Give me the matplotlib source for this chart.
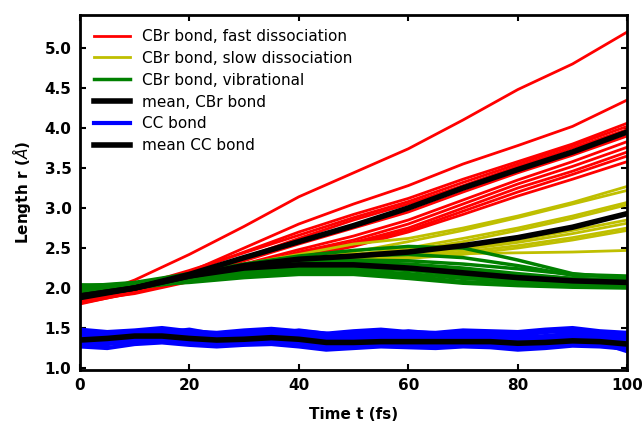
import numpy as np
import matplotlib.pyplot as plt

# Время (fs), точки через 10 fs для связей CBr
t10 = [0, 10, 20, 30, 40, 50, 60, 70, 80, 90, 100]
# через 5 fs для связи CC
t5 = [0, 5, 10, 15, 20, 25, 30, 35, 40, 45, 50, 55, 60, 65, 70, 75, 80, 85, 90, 95, 100]

# CBr, быстрая диссоциация
fast = [
    [1.85, 2.10, 2.42, 2.77, 3.14, 3.44, 3.74, 4.10, 4.48, 4.80, 5.20],
    [1.85, 2.00, 2.20, 2.50, 2.80, 3.05, 3.28, 3.55, 3.78, 4.02, 4.35],
    [1.82, 1.98, 2.20, 2.45, 2.70, 2.92, 3.12, 3.36, 3.58, 3.80, 4.06],
    [1.88, 2.02, 2.22, 2.44, 2.66, 2.88, 3.08, 3.32, 3.55, 3.78, 4.02],
    [1.80, 1.95, 2.15, 2.38, 2.62, 2.85, 3.05, 3.28, 3.52, 3.75, 3.98],
    [1.81, 1.94, 2.13, 2.34, 2.55, 2.75, 2.95, 3.20, 3.44, 3.66, 3.90],
    [1.86, 1.97, 2.12, 2.30, 2.48, 2.65, 2.85, 3.10, 3.35, 3.58, 3.83],
    [1.83, 1.95, 2.10, 2.27, 2.45, 2.60, 2.80, 3.05, 3.30, 3.52, 3.76],
    [1.90, 1.98, 2.12, 2.28, 2.43, 2.57, 2.75, 3.00, 3.25, 3.46, 3.70],
    [1.84, 1.93, 2.08, 2.24, 2.40, 2.55, 2.72, 2.96, 3.20, 3.42, 3.65],
    [1.87, 1.96, 2.10, 2.25, 2.38, 2.52, 2.70, 2.92, 3.15, 3.36, 3.58],
]
fast_mean = [1.88, 2.00, 2.17, 2.38, 2.58, 2.78, 3.00, 3.25, 3.48, 3.70, 3.95]

# CBr, медленная диссоциация
slow = [
    [1.95, 2.03, 2.17, 2.30, 2.42, 2.55, 2.62, 2.75, 2.90, 3.07, 3.27],
    [1.97, 2.04, 2.16, 2.28, 2.37, 2.45, 2.58, 2.72, 2.88, 3.05, 3.22],
    [1.93, 2.00, 2.13, 2.27, 2.36, 2.42, 2.50, 2.62, 2.75, 2.90, 3.07],
    [1.96, 2.02, 2.14, 2.26, 2.35, 2.40, 2.47, 2.58, 2.72, 2.87, 3.04],
    [1.94, 2.01, 2.13, 2.25, 2.33, 2.38, 2.43, 2.50, 2.60, 2.72, 2.85],
    [1.98, 2.03, 2.14, 2.25, 2.32, 2.36, 2.41, 2.48, 2.57, 2.68, 2.81],
    [1.95, 2.00, 2.12, 2.24, 2.31, 2.35, 2.39, 2.45, 2.53, 2.63, 2.75],
    [1.96, 2.02, 2.13, 2.24, 2.30, 2.34, 2.37, 2.42, 2.50, 2.60, 2.72],
    [1.97, 2.03, 2.14, 2.26, 2.34, 2.38, 2.41, 2.43, 2.44, 2.45, 2.47],
]
slow_mean = [1.90, 2.00, 2.15, 2.28, 2.36, 2.40, 2.45, 2.53, 2.63, 2.76, 2.93]

# CBr, колебания
vib = [
    [2.02, 2.07, 2.18, 2.30, 2.40, 2.47, 2.52, 2.50, 2.35, 2.18, 2.12],
    [1.98, 2.05, 2.16, 2.28, 2.36, 2.40, 2.42, 2.38, 2.28, 2.16, 2.14],
    [2.00, 2.04, 2.14, 2.25, 2.32, 2.35, 2.34, 2.30, 2.24, 2.17, 2.15],
    [1.96, 2.03, 2.13, 2.22, 2.27, 2.28, 2.26, 2.22, 2.16, 2.12, 2.10],
    [2.03, 2.05, 2.12, 2.20, 2.25, 2.26, 2.23, 2.18, 2.12, 2.09, 2.08],
    [1.99, 2.02, 2.10, 2.18, 2.22, 2.22, 2.18, 2.12, 2.08, 2.06, 2.05],
    [1.95, 2.00, 2.08, 2.15, 2.20, 2.20, 2.15, 2.08, 2.05, 2.03, 2.02],
    [2.04, 2.03, 2.07, 2.13, 2.17, 2.17, 2.12, 2.06, 2.03, 2.01, 2.00],
    [1.97, 2.01, 2.09, 2.17, 2.23, 2.25, 2.22, 2.15, 2.10, 2.05, 2.03],
    [2.01, 2.06, 2.15, 2.24, 2.30, 2.32, 2.30, 2.25, 2.18, 2.12, 2.08],
]
vib_mean = [1.90, 2.00, 2.15, 2.25, 2.29, 2.29, 2.25, 2.19, 2.13, 2.09, 2.07]

# CC
cc = [
    [1.48, 1.45, 1.47, 1.50, 1.46, 1.44, 1.47, 1.49, 1.46, 1.43, 1.46, 1.48, 1.45, 1.44, 1.47, 1.46, 1.45, 1.48, 1.50, 1.46, 1.44],
    [1.44, 1.41, 1.44, 1.47, 1.45, 1.40, 1.43, 1.46, 1.44, 1.40, 1.42, 1.45, 1.43, 1.41, 1.44, 1.43, 1.41, 1.45, 1.47, 1.44, 1.41],
    [1.40, 1.43, 1.45, 1.43, 1.41, 1.39, 1.42, 1.44, 1.40, 1.37, 1.39, 1.42, 1.40, 1.39, 1.41, 1.40, 1.38, 1.40, 1.43, 1.41, 1.38],
    [1.37, 1.39, 1.42, 1.42, 1.38, 1.36, 1.39, 1.40, 1.37, 1.34, 1.36, 1.38, 1.37, 1.36, 1.38, 1.37, 1.35, 1.37, 1.39, 1.38, 1.35],
    [1.33, 1.36, 1.38, 1.39, 1.36, 1.33, 1.35, 1.37, 1.34, 1.31, 1.33, 1.35, 1.34, 1.33, 1.35, 1.34, 1.32, 1.34, 1.36, 1.35, 1.32],
    [1.30, 1.33, 1.36, 1.36, 1.33, 1.30, 1.32, 1.35, 1.32, 1.28, 1.29, 1.31, 1.31, 1.30, 1.32, 1.31, 1.28, 1.30, 1.33, 1.31, 1.28],
    [1.28, 1.30, 1.33, 1.34, 1.31, 1.28, 1.30, 1.32, 1.29, 1.25, 1.27, 1.29, 1.28, 1.27, 1.29, 1.28, 1.26, 1.28, 1.30, 1.29, 1.26],
    [1.27, 1.25, 1.30, 1.32, 1.29, 1.27, 1.29, 1.30, 1.27, 1.23, 1.25, 1.27, 1.26, 1.25, 1.27, 1.26, 1.23, 1.25, 1.28, 1.27, 1.24],
    [1.32, 1.34, 1.37, 1.34, 1.32, 1.33, 1.36, 1.33, 1.30, 1.30, 1.31, 1.33, 1.30, 1.29, 1.30, 1.31, 1.29, 1.31, 1.34, 1.32, 1.21],
    [1.45, 1.40, 1.37, 1.44, 1.48, 1.42, 1.38, 1.42, 1.47, 1.43, 1.38, 1.41, 1.46, 1.43, 1.39, 1.42, 1.44, 1.47, 1.45, 1.41, 1.44],
]
cc_mean = [1.35, 1.37, 1.40, 1.40, 1.37, 1.35, 1.36, 1.38, 1.36, 1.32, 1.32, 1.33, 1.33, 1.33, 1.33, 1.33, 1.31, 1.32, 1.34, 1.33, 1.30]

fig = plt.figure(figsize=(6.44, 4.21), dpi=100)
ax = fig.add_axes([0.124, 0.121, 0.850, 0.843])

for i, y in enumerate(fast):
    ax.plot(t10, y, color='r', lw=2, label='CBr bond, fast dissociation' if i == 0 else None)
for i, y in enumerate(slow):
    ax.plot(t10, y, color='y', lw=2, label='CBr bond, slow dissociation' if i == 0 else None)
for i, y in enumerate(vib):
    ax.plot(t10, y, color='g', lw=2.5, label='CBr bond, vibrational' if i == 0 else None)
ax.plot(t10, fast_mean, color='k', lw=4, label='mean, CBr bond')
ax.plot(t10, slow_mean, color='k', lw=4)
ax.plot(t10, vib_mean, color='k', lw=4)
for i, y in enumerate(cc):
    ax.plot(t5, y, color='b', lw=3, label='CC bond' if i == 0 else None)
ax.plot(t5, cc_mean, color='k', lw=4, label='mean CC bond')

ax.set_xlim(0, 100)
ax.set_ylim(0.975, 5.41)
ax.set_xticks([0, 20, 40, 60, 80, 100])
ax.set_yticks(np.arange(1.0, 5.01, 0.5))
ax.set_yticklabels(['%.1f' % v for v in np.arange(1.0, 5.01, 0.5)])
ax.tick_params(direction='in', top=True, right=True, length=4, width=1.5, labelsize=11, pad=6)
for lab in ax.get_xticklabels() + ax.get_yticklabels():
    lab.set_fontweight('bold')
for s in ax.spines.values():
    s.set_linewidth(2)

ax.set_xlabel('Time t (fs)', fontweight='bold', fontsize=11, labelpad=10)
ax.set_ylabel(r'Length r ($\AA$)', fontweight='bold', fontsize=11, labelpad=8)

ax.legend(loc='upper left', frameon=False, fontsize=11, handlelength=2.4, labelspacing=0.45)

fig.savefig('out.png', dpi=100)
